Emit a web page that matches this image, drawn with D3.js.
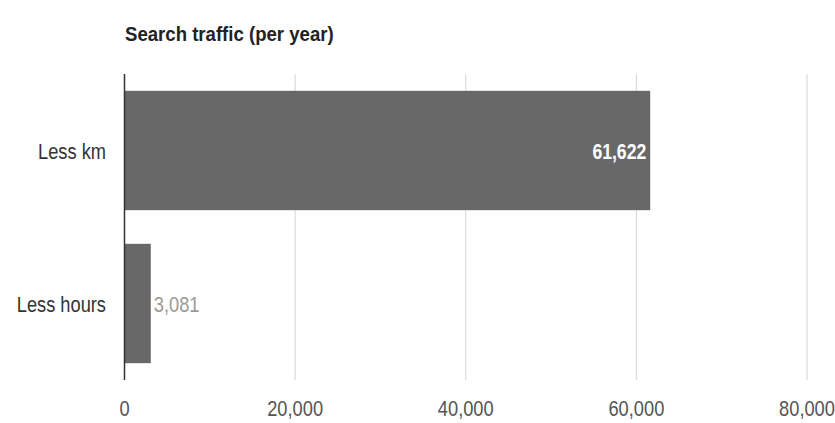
<!DOCTYPE html>
<html>
<head>
<meta charset="utf-8">
<script src="https://cdn.jsdelivr.net/npm/d3@7"></script>
<style>
  html, body { margin: 0; padding: 0; background: #fff; }
  svg { display: block; }
  text { font-family: "Liberation Sans", Arial, sans-serif; }
</style>
</head>
<body>
<svg id="chart" width="835" height="423"></svg>
<script>
const title = "Search traffic (per year)";
const categories = ["Less km", "Less hours"];
const values = [61622, 3081];
const valueLabels = ["61,622", "3,081"];
const tickValues = [0, 20000, 40000, 60000, 80000];
const tickLabels = ["0", "20,000", "40,000", "60,000", "80,000"];

const svg = d3.select("#chart");
const x = d3.scaleLinear().domain([0, 80000]).range([124.5, 807]);
const y = d3.scaleBand().domain(categories).range([74, 380]).paddingInner(0.22).paddingOuter(0.11);

const SX = 0.83; // horizontal condensing of text

function cText(g, xPos, yPos, str, anchor, size, weight, fill, sx) {
  g.append("text")
    .attr("transform", `translate(${xPos},${yPos}) scale(${sx},1)`)
    .attr("text-anchor", anchor)
    .attr("font-size", size)
    .attr("font-weight", weight)
    .attr("fill", fill)
    .text(str);
}

// title
cText(svg, 125, 41, title, "start", 20, "bold", "#222", 0.93);

// gridlines
svg.append("g").selectAll("line")
  .data(tickValues.filter(d => d !== 0))
  .join("line")
  .attr("x1", d => x(d)).attr("x2", d => x(d))
  .attr("y1", 74).attr("y2", 380)
  .attr("stroke", "#d4d4d4").attr("stroke-width", 1);

// bars
svg.append("g").selectAll("rect")
  .data(categories)
  .join("rect")
  .attr("x", x(0))
  .attr("y", d => y(d))
  .attr("width", (d, i) => x(values[i]) - x(0))
  .attr("height", y.bandwidth())
  .attr("fill", "#686868");

// zero axis line
svg.append("line")
  .attr("x1", x(0)).attr("x2", x(0))
  .attr("y1", 74).attr("y2", 380)
  .attr("stroke", "#333").attr("stroke-width", 1.5);

// category labels
const catG = svg.append("g");
categories.forEach((c, i) => {
  cText(catG, 106, y(c) + y.bandwidth() / 2 + 8, c, "end", 22, "normal", "#333", SX);
});

// value labels
const valG = svg.append("g");
categories.forEach((c, i) => {
  const yc = y(c) + y.bandwidth() / 2 + 8;
  const barW = x(values[i]) - x(0);
  if (barW > 80) {
    cText(valG, x(values[i]) - 4, yc, valueLabels[i], "end", 22, "bold", "#fff", 0.8);
  } else {
    cText(valG, x(values[i]) + 3, yc, valueLabels[i], "start", 22, "normal", "#9a9a9a", SX);
  }
});

// x tick labels
const tickG = svg.append("g");
tickValues.forEach((t, i) => {
  cText(tickG, x(t), 416, tickLabels[i], "middle", 22, "normal", "#555", SX);
});
</script>
</body>
</html>
